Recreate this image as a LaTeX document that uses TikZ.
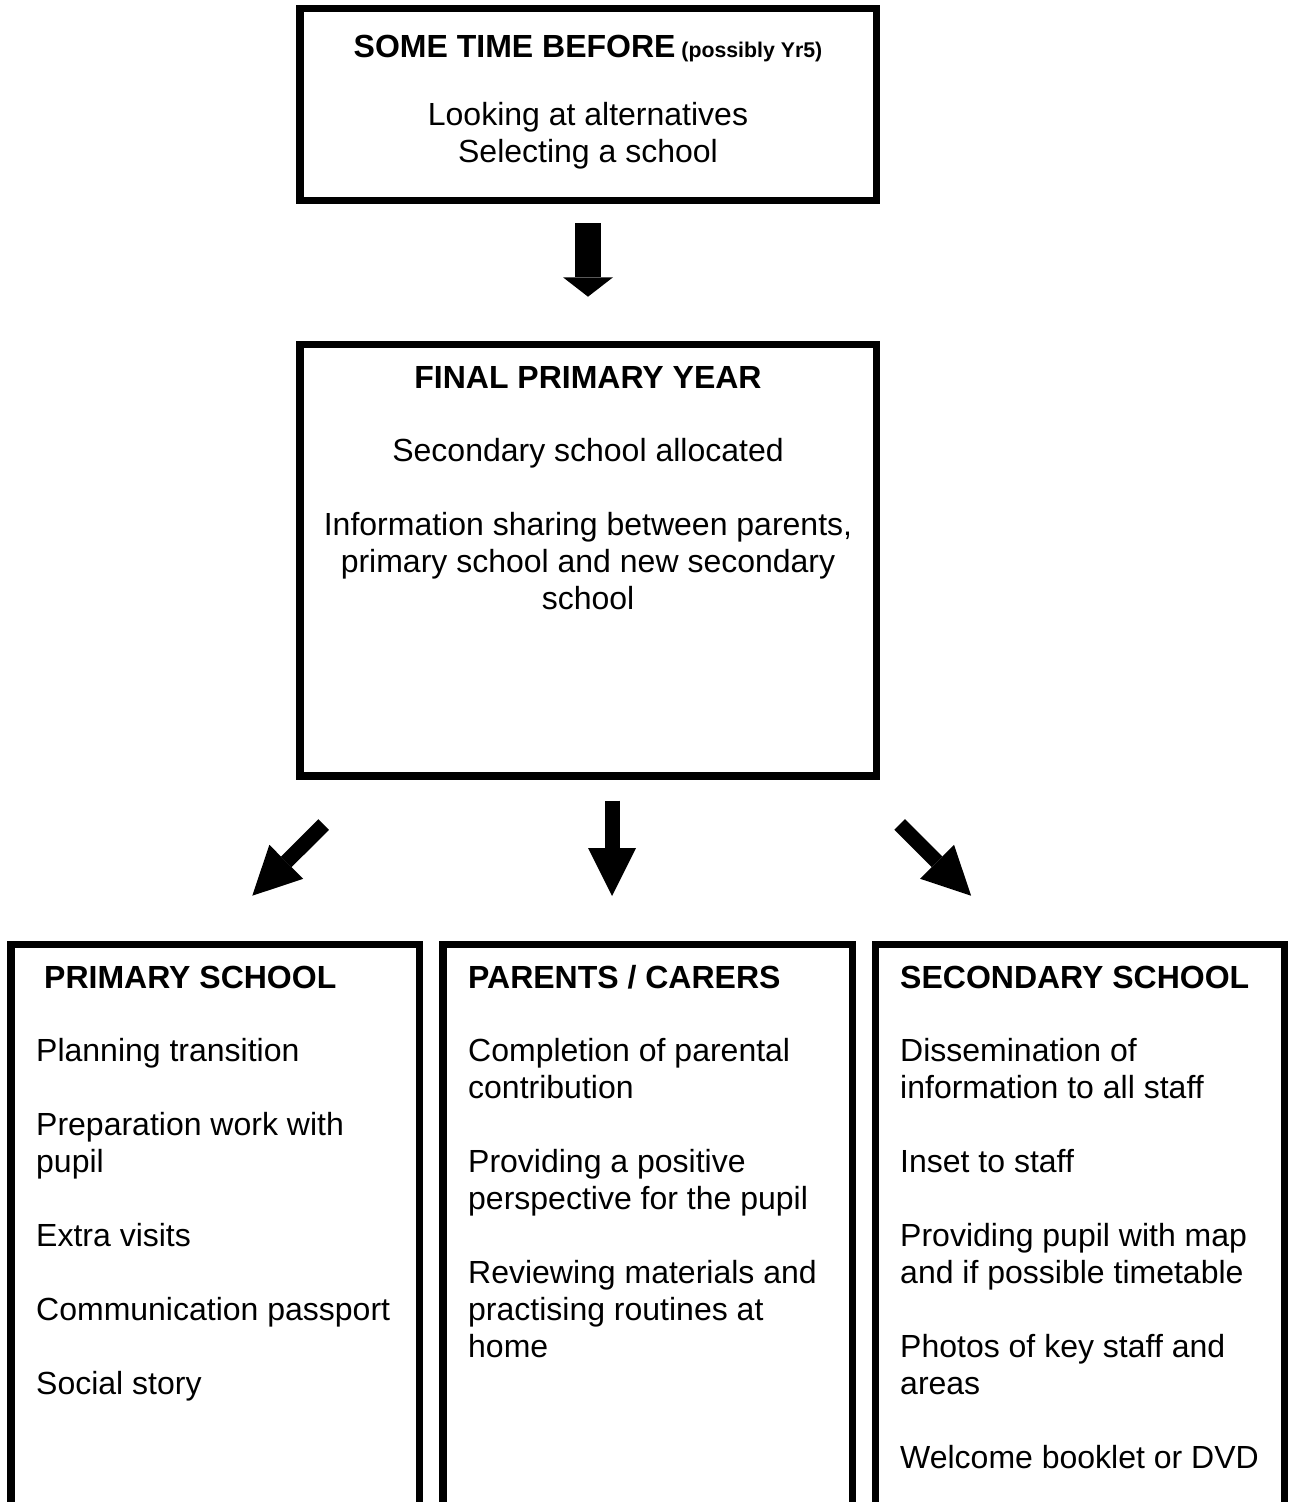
\documentclass[tikz,border=0pt]{standalone}
\usepackage{fontspec}
\setmainfont{Liberation Sans}
\usetikzlibrary{arrows.meta}
\begin{document}
\begin{tikzpicture}[x=1pt, y=-1pt,
    box/.style ={rectangle, draw, line width=7.5pt, inner sep=0pt},
    heading/.style ={inner sep=0pt, font=\fontsize{32}{37}\selectfont\bfseries},
    body/.style ={inner sep=0pt, font=\fontsize{32}{37}\selectfont},
    bigarrow/.style ={line width=26pt, -{Triangle[length=19.4pt, width=50pt, line width=0pt]}},
    slimarrow/.style ={line width=15pt, -{Triangle[length=48pt, width=48pt, line width=0pt]}}]
   \clip (0,0) rectangle (1289,1502);

   \node[box, minimum width=576.3pt, minimum height=192pt] (Before) at (588.15,104.3) {};
   \node[box, minimum width=576.3pt, minimum height=431.7pt] (Final) at (588.15,560.15) {};
   \node[box, minimum width=408.7pt, minimum height=655.7pt] (Primary) at (215.35,1272.15) {};
   \node[box, minimum width=409.3pt, minimum height=655.7pt] (Parents) at (647.65,1272.15) {};
   \node[box, minimum width=409pt, minimum height=655.7pt] (Secondary) at (1080,1272.15) {};

   \node[heading, anchor=base] (BeforeHead) at (588,57) {SOME TIME BEFORE{\fontsize{21.3}{25}\selectfont\ (possibly Yr5)}};
   \node[body, anchor=base, align=center] (BeforeText) at (588,162) {Looking at alternatives\\Selecting a school};

   \node[heading, anchor=base] (FinalHead) at (588,388) {FINAL PRIMARY YEAR};
   \node[body, anchor=base, align=center] (FinalText) at (588,609) {Secondary school allocated\\[37pt]
      Information sharing between parents,\\primary school and new secondary\\school};

   \node[heading, anchor=base west] (PrimaryHead) at (44,988) {PRIMARY SCHOOL};
   \node[body, anchor=base west, align=left] (PrimaryText) at (36,1394) {Planning transition\\[37pt]
      Preparation work with\\pupil\\[37pt]
      Extra visits\\[37pt]
      Communication passport\\[37pt]
      Social story};

   \node[heading, anchor=base west] (ParentsHead) at (468,988) {PARENTS / CARERS};
   \node[body, anchor=base west, align=left] (ParentsText) at (468,1357) {Completion of parental\\contribution\\[37pt]
      Providing a positive\\perspective for the pupil\\[37pt]
      Reviewing materials and\\practising routines at\\home};

   \node[heading, anchor=base west] (SecondaryHead) at (900,988) {SECONDARY SCHOOL};
   \node[body, anchor=base west, align=left] (SecondaryText) at (900,1468) {Dissemination of\\information to all staff\\[37pt]
      Inset to staff\\[37pt]
      Providing pupil with map\\and if possible timetable\\[37pt]
      Photos of key staff and\\areas\\[37pt]
      Welcome booklet or DVD};

   \coordinate (A1) at (588,223.3);
   \coordinate (A2) at (588,296.7);
   \coordinate (L1) at (323.7,824.5);
   \coordinate (L2) at (252.3,895.7);
   \coordinate (M1) at (612,800.7);
   \coordinate (M2) at (612,896);
   \coordinate (R1) at (899.7,824.5);
   \coordinate (R2) at (971.1,895.7);

   \draw[bigarrow] (A1) to (A2);
   \draw[slimarrow] (L1) to (L2);
   \draw[slimarrow] (M1) to (M2);
   \draw[slimarrow] (R1) to (R2);

 \end{tikzpicture}
\end{document}
